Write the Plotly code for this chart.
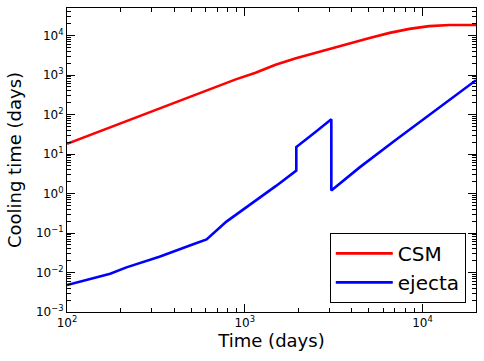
import plotly.graph_objects as go

# CSM cooling time
t_csm = [100, 150, 200, 300, 400, 500, 700, 890, 1150, 1490, 1940, 2510, 3240,
         4110, 5040, 6530, 8450, 10900, 14200, 20000]
cool_csm = [18.2, 36.7, 60, 122, 200, 294, 527, 778, 1146, 1828, 2661, 3698, 5070,
            6637, 8710, 11720, 14790, 17380, 18620, 18620]

# ejecta cooling time (jumps kept as repeated x values)
t_ej = [100, 141, 175, 216, 331, 513, 610, 789, 1213, 1500, 1950, 1950, 2500,
        3070, 3070, 4430, 7000, 10000, 14000, 20000]
cool_ej = [0.0048, 0.0071, 0.0093, 0.0135, 0.025, 0.052, 0.069, 0.195, 0.76, 1.56,
           3.8, 15, 36, 76, 1.19, 4.6, 22, 73, 230, 740]

x_major = [1e2, 1e3, 1e4]
x_major_text = ["10<sup>2</sup>", "10<sup>3</sup>", "10<sup>4</sup>"]
y_major = [1e-3, 1e-2, 1e-1, 1e0, 1e1, 1e2, 1e3, 1e4]
y_major_text = ["10<sup>−3</sup>", "10<sup>−2</sup>", "10<sup>−1</sup>", "10<sup>0</sup>",
                "10<sup>1</sup>", "10<sup>2</sup>", "10<sup>3</sup>", "10<sup>4</sup>"]

x_minor = [m * 10 ** e for e in range(2, 5) for m in range(2, 10)]
y_minor = [m * 10.0 ** e for e in range(-3, 5) for m in range(2, 10)]

fig = go.Figure()
fig.add_trace(go.Scatter(x=t_csm, y=cool_csm, mode="lines", name="CSM",
                         line=dict(color="#ff0000", width=2.6)))
fig.add_trace(go.Scatter(x=t_ej, y=cool_ej, mode="lines", name="ejecta",
                         line=dict(color="#0000ff", width=2.6)))

axis_common = dict(
    type="log", showgrid=False, zeroline=False, automargin=False,
    showline=True, linecolor="black", linewidth=1, mirror="allticks",
    ticks="inside", ticklen=8, tickwidth=1, tickcolor="black",
    tickfont=dict(family="DejaVu Sans", size=12, color="black"),
)

fig.update_xaxes(
    **axis_common,
    range=[2, 4.30103],
    tickmode="array", tickvals=x_major, ticktext=x_major_text,
    minor=dict(tickmode="array", tickvals=x_minor, ticks="inside", ticklen=4,
               tickcolor="black", tickwidth=1, showgrid=False),
    title=dict(text="Time (days)", font=dict(family="DejaVu Sans", size=18, color="black"),
               standoff=4),
)
fig.update_yaxes(
    **axis_common,
    range=[-3, 4.699],
    tickmode="array", tickvals=y_major, ticktext=y_major_text,
    minor=dict(tickmode="array", tickvals=y_minor, ticks="inside", ticklen=4,
               tickcolor="black", tickwidth=1, showgrid=False),
    title=dict(text="Cooling time (days)", font=dict(family="DejaVu Sans", size=18, color="black"),
               standoff=9),
)

fig.update_layout(
    width=484, height=361,
    margin=dict(l=67, r=8, t=8, b=49),
    paper_bgcolor="white", plot_bgcolor="white",
    font=dict(family="DejaVu Sans", color="black"),
    legend=dict(x=0.975, y=0.03, xanchor="right", yanchor="bottom",
                bordercolor="black", borderwidth=1, bgcolor="white",
                itemwidth=57, entrywidth=120,
                font=dict(family="DejaVu Sans", size=20, color="black"),
                tracegroupgap=0),
)

# page body has a default 8px margin; drop it so the figure sits at the window origin
fig.write_html("out.html", config={"displayModeBar": False},
               post_script="document.body.style.margin='0';")
